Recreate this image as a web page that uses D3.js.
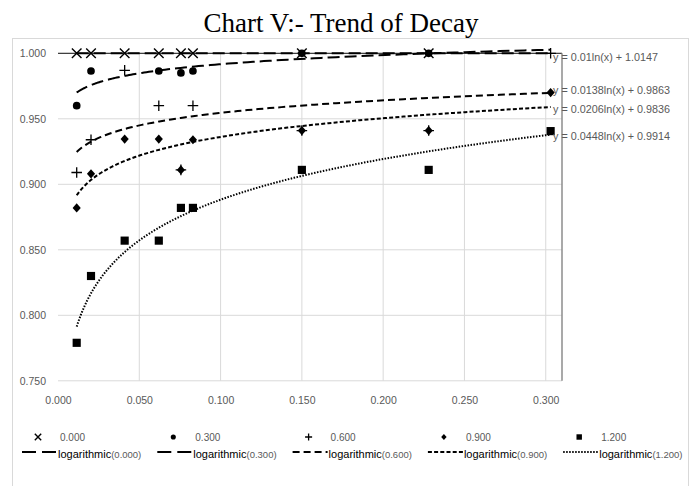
<!DOCTYPE html>
<html>
<head>
<meta charset="utf-8">
<script src="https://cdn.jsdelivr.net/npm/d3@7"></script>
<style>
  body { margin: 0; background: #fff; }
  svg { display: block; }
</style>
</head>
<body>
<script>
// x values (shared by all series) and one y array per series
var xValues = [0.0115, 0.0203, 0.041, 0.062, 0.0756, 0.083, 0.15, 0.228, 0.303];
var seriesNames = ["0.000", "0.300", "0.600", "0.900", "1.200"];
var s000 = [1.000, 1.000, 1.000, 1.000, 1.000, 1.000, 1.000, 1.000, null];
var s300 = [0.960, 0.9865, null, 0.9865, 0.985, 0.9865, 1.000, 1.000, null];
var s600 = [0.909, 0.934, 0.987, 0.960, 0.911, 0.960, 0.941, 0.941, 1.000];
var s900 = [0.882, 0.908, 0.9345, 0.9345, 0.911, 0.934, 0.941, 0.941, 0.970];
var s1200 = [0.779, 0.830, 0.857, 0.857, 0.882, 0.882, 0.911, 0.911, 0.9406];

// logarithmic trendlines y = a ln(x) + b, as shown on the chart
var trendA = [0, 0.01, 0.0138, 0.0206, 0.0448];
var trendB = [1.000, 1.0147, 0.9863, 0.9836, 0.9914];
var eqLabels = ["y = 0.01ln(x) + 1.0147", "y = 0.0138ln(x) + 0.9863",
                "y = 0.0206ln(x) + 0.9836", "y = 0.0448ln(x) + 0.9914"];
var eqAnchorY = [0.9972, 0.972, 0.9575, 0.9369];

var xTicks = [0, 0.05, 0.10, 0.15, 0.20, 0.25, 0.30];
var yTicks = [0.75, 0.80, 0.85, 0.90, 0.95, 1.00];

var allSeries = [s000, s300, s600, s900, s1200];

var W = 693, H = 486;
var plot = {left: 58, right: 562, top: 53.3, bottom: 380.8};

var svg = d3.select("body").append("svg")
    .attr("width", W)
    .attr("height", H);

var labelFont = "'Liberation Sans', Arial, sans-serif";

// chart area border
svg.append("rect")
    .attr("x", 12.5).attr("y", 38.5)
    .attr("width", 676).attr("height", 460)
    .attr("fill", "none")
    .attr("stroke", "#d9d9d9");

// title
svg.append("text")
    .attr("x", 341).attr("y", 32)
    .attr("text-anchor", "middle")
    .style("font-family", "'Liberation Serif', 'Times New Roman', serif")
    .style("font-size", "27px")
    .text("Chart V:- Trend of Decay");

var xScale = d3.scaleLinear().domain([0, 0.31]).range([plot.left, plot.right]);
var yScale = d3.scaleLinear().domain([0.75, 1.0]).range([plot.bottom, plot.top]);

// gridlines
svg.append("g").selectAll("line")
    .data(yTicks)
  .enter().append("line")
    .attr("x1", plot.left).attr("x2", plot.right)
    .attr("y1", function(d) { return yScale(d); })
    .attr("y2", function(d) { return yScale(d); })
    .attr("stroke", "#d9d9d9");

svg.append("g").selectAll("line")
    .data(xTicks.slice(1))
  .enter().append("line")
    .attr("x1", function(d) { return xScale(d); })
    .attr("x2", function(d) { return xScale(d); })
    .attr("y1", plot.top).attr("y2", plot.bottom)
    .attr("stroke", "#d9d9d9");

// axes (labels only, lines drawn separately)
var yAxis = d3.axisLeft(yScale).tickValues(yTicks).tickFormat(d3.format(".3f")).tickSize(0).tickPadding(12);
var xAxis = d3.axisBottom(xScale).tickValues(xTicks).tickFormat(d3.format(".3f")).tickSize(0).tickPadding(16);

var gy = svg.append("g").attr("transform", "translate(" + plot.left + ",0)").call(yAxis);
var gx = svg.append("g").attr("transform", "translate(0," + plot.bottom + ")").call(xAxis);
[gx, gy].forEach(function(g) {
  g.select(".domain").remove();
  g.selectAll("text")
    .style("font-family", labelFont)
    .style("font-size", "10.5px")
    .attr("fill", "#595959");
});

// axis lines: horizontal crossing at top, vertical at right
svg.append("line")
    .attr("x1", plot.left).attr("x2", plot.right)
    .attr("y1", yScale(1.0)).attr("y2", yScale(1.0))
    .attr("stroke", "#404040").attr("stroke-width", 1.3);
svg.append("line")
    .attr("x1", plot.right).attr("x2", plot.right)
    .attr("y1", plot.top).attr("y2", plot.bottom)
    .attr("stroke", "#8c8c8c").attr("stroke-width", 1.5);

// marker drawing
function drawMarker(g, kind, s) {
  if (kind == 0) {
    g.append("path").attr("d", "M" + (-s) + "," + (-s) + "L" + s + "," + s + "M" + (-s) + "," + s + "L" + s + "," + (-s))
      .attr("stroke", "#000").attr("stroke-width", 1.4).attr("fill", "none");
  } else if (kind == 1) {
    g.append("circle").attr("r", s * 0.8).attr("fill", "#000");
  } else if (kind == 2) {
    g.append("path").attr("d", "M" + (-s * 1.1) + ",0L" + (s * 1.1) + ",0M0," + (-s * 1.1) + "L0," + (s * 1.1))
      .attr("stroke", "#000").attr("stroke-width", 1.3).attr("fill", "none");
  } else if (kind == 3) {
    g.append("path").attr("d", "M0," + (-s * 0.95) + "L" + (s * 0.85) + ",0L0," + (s * 0.95) + "L" + (-s * 0.85) + ",0Z")
      .attr("fill", "#000");
  } else {
    g.append("rect").attr("x", -s * 0.85).attr("y", -s * 0.85)
      .attr("width", s * 1.7).attr("height", s * 1.7).attr("fill", "#000");
  }
}

// points
allSeries.forEach(function(vals, k) {
  var pts = xValues.map(function(x, i) { return {x: x, y: vals[i]}; })
    .filter(function(d) { return d.y != null; });
  var g = svg.append("g").attr("class", "series-" + k);
  pts.forEach(function(d) {
    var m = g.append("g")
      .attr("transform", "translate(" + xScale(d.x) + "," + yScale(d.y) + ")");
    drawMarker(m, k, 4.8);
  });
});

// trendlines
var dashes = ["12,5", "12,5", "7,4", "4,2.2", "1.5,1.5"];
var line = d3.line()
    .x(function(d) { return xScale(d[0]); })
    .y(function(d) { return yScale(d[1]); });

trendA.forEach(function(a, k) {
  var xmin = d3.min(xValues), xmax = d3.max(xValues);
  var samples = d3.range(0, 121).map(function(i) {
    var x = xmin * Math.pow(xmax / xmin, i / 120);
    return [x, a * Math.log(x) + trendB[k]];
  });
  svg.append("path")
      .datum(samples)
      .attr("d", line)
      .attr("fill", "none")
      .attr("stroke", "#000")
      .attr("stroke-width", 2)
      .attr("stroke-dasharray", dashes[k]);
});

// equation labels
eqLabels.forEach(function(t, i) {
  svg.append("text")
      .attr("x", xScale(0.3045))
      .attr("y", yScale(eqAnchorY[i]))
      .attr("dy", "0.35em")
      .style("font-family", labelFont)
      .style("font-size", "10.8px")
      .attr("fill", "#595959")
      .text(t);
});

// legend
var legendX0 = 22, legendStep = 135.3;
seriesNames.forEach(function(name, k) {
  var x = legendX0 + k * legendStep;
  var m = svg.append("g").attr("transform", "translate(" + (x + 16) + ",437)");
  drawMarker(m, k, 3.2);
  svg.append("text")
      .attr("x", x + 38).attr("y", 437).attr("dy", "0.35em")
      .style("font-family", labelFont)
      .style("font-size", "10px")
      .attr("fill", "#595959")
      .text(name);

  svg.append("line")
      .attr("x1", x).attr("x2", x + 35)
      .attr("y1", 452).attr("y2", 452)
      .attr("stroke", "#000").attr("stroke-width", 2)
      .attr("stroke-dasharray", k < 2 ? "14,6" : dashes[k]);
  var t = svg.append("text")
      .attr("x", x + 36).attr("y", 452).attr("dy", "0.35em")
      .style("font-family", labelFont);
  t.append("tspan").style("font-size", "11px").attr("fill", "#000").text("logarithmic");
  t.append("tspan").style("font-size", "9.5px").attr("fill", "#595959").text("(" + name + ")");
});
</script>
</body>
</html>
